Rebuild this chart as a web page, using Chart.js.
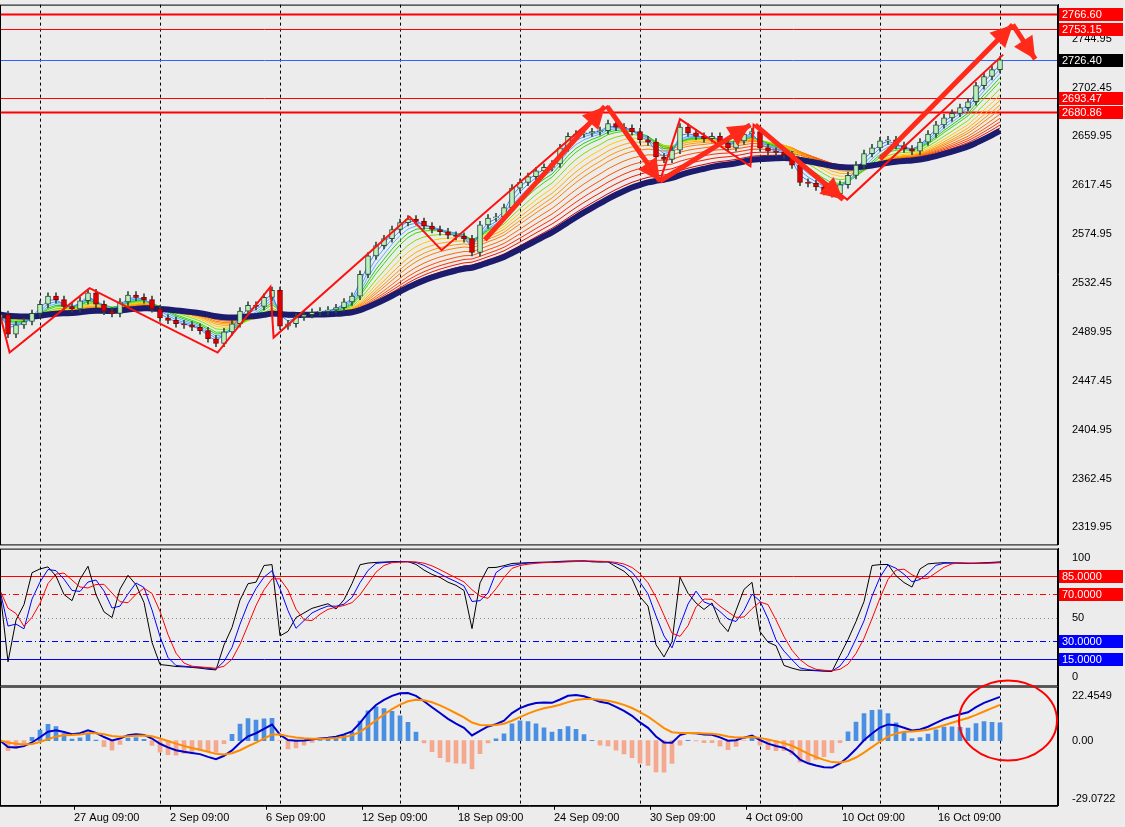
<!DOCTYPE html>
<html><head><meta charset="utf-8">
<script src="https://cdn.jsdelivr.net/npm/chart.js@4"></script>
<style>
html,body{margin:0;padding:0;background:#ececec;width:1125px;height:827px;overflow:hidden}
canvas{position:absolute;left:0}
</style></head><body>
<canvas id="c1" width="1125" height="565" style="top:-8px"></canvas>
<canvas id="c2" width="1125" height="162" style="top:536px"></canvas>
<canvas id="c3" width="1125" height="153" style="top:674px"></canvas>
<script>
// ---------- DATA ----------
const closes = [2505,2488,2496,2499,2506,2514,2521,2518,2512,2510,2517,2524,2514,2508,2506,2516,2522,2520,2518,2510,
2502,2500,2497,2496,2494,2491,2484,2480,2490,2497,2508,2513,2512,2520,2526,2495,2497,2503,2505,2507,
2508,2509,2511,2516,2521,2540,2556,2565,2571,2579,2585,2588,2586,2582,2579,2577,2574,2573,2571,2559,
2583,2589,2590,2598,2615,2620,2625,2630,2633,2636,2650,2660,2662,2663,2664,2665,2671,2668,2667,2664,
2657,2655,2642,2640,2648,2668,2663,2660,2658,2660,2654,2650,2656,2662,2664,2650,2647,2646,2644,2635,
2620,2619,2616,2612,2610,2618,2626,2635,2645,2650,2656,2657,2652,2649,2647,2655,2662,2670,2676,2680,
2685,2690,2704,2712,2718,2726.4];
const firstOpen = 2500;
const xTickPos = [9.25,21.25,33.25,45.25,57.25,69.25,81.25,93.25,105.25,117.25];
const xTickLabels = ['27 Aug 09:00','2 Sep 09:00','6 Sep 09:00','12 Sep 09:00','18 Sep 09:00','24 Sep 09:00','30 Sep 09:00','4 Oct 09:00','10 Oct 09:00','16 Oct 09:00'];
const weekSeparators = [5,20,35,50,65,80,95,110,125];
const priceTicks = [2744.95,2702.45,2659.95,2617.45,2574.95,2532.45,2489.95,2447.45,2404.95,2362.45,2319.95];
const levelValues = [2766.60,2753.15,2726.40,2693.47,2680.86];
const levelKinds = ['red2','red1','blue','red1','red2'];
const zigzagX = [0,1.2,11.2,27.2,33.8,34.2,51.2,55.2,75.9,82.5,85,93.8,94.2,105.9,125.4];
const zigzagY = [2505,2472,2528,2472,2529,2485,2590,2561,2686,2621,2675,2634,2670,2605,2731];
const arrowFrom = [[60.6,2570],[75.9,2686],[82.5,2621],[94.4,2670],[110,2640],[126.6,2757]];
const arrowTo   = [[75.6,2686],[82.5,2621],[93.8,2670],[105.4,2605],[126.6,2757],[129.4,2727]];
const oscTicks = [100,50,0];
const oscLevels = [85,70,50,30,15];
const macdTicks = [22.4549,0,-29.0722];

// ---------- derived ----------
const opens = closes.map((c,i)=> i===0 ? firstOpen : closes[i-1]);
const highs = closes.map((c,i)=> Math.max(c,opens[i])+3);
const lows  = closes.map((c,i)=> Math.min(c,opens[i])-3);
function ema(a,p){const k=2/(p+1);const o=[a[0]];for(let i=1;i<a.length;i++)o.push(a[i]*k+o[i-1]*(1-k));return o;}
function sma(a,p){return a.map((v,i)=>{const s=a.slice(Math.max(0,i-p+1),i+1);return s.reduce((x,y)=>x+y,0)/s.length;});}
const pts = a => a.map((v,i)=>({x:i,y:v}));

const ribbonPeriods=[2,3,4,5,6,8,10,12,14,16,19,22,25,28,31];
const ribbonColors=['#3b8cff','#4aa0ff','#60b0ff','#22cc22','#33dd00','#88dd00','#ffcc00','#ffaa00','#ff9900','#ff8000','#ff6a00','#ff5000','#ff3000','#ee1a00','#dd0000'];

const X = {type:'linear',min:0,max:132.25,display:false,offset:false};
const yFit = s=>{s.width=67;};
const fontT = {family:'Liberation Sans',size:11};

function vgrid(chart){
  const {ctx,chartArea:a,scales:{x}}=chart;
  ctx.save();ctx.strokeStyle='#000';ctx.lineWidth=1;ctx.setLineDash([3,3]);
  weekSeparators.forEach(v=>{const px=Math.round(x.getPixelForValue(v))+0.5;ctx.beginPath();ctx.moveTo(px,a.top);ctx.lineTo(px,a.bottom);ctx.stroke();});
  ctx.restore();
}
function frame(chart){
  const {ctx,chartArea:a}=chart;
  ctx.save();ctx.strokeStyle='#000';ctx.lineWidth=1;ctx.strokeRect(a.left+0.5,a.top+0.5,a.right-a.left-1,a.bottom-a.top);ctx.restore();
}
function box(ctx,y,text,bg){
  ctx.fillStyle=bg;ctx.fillRect(1059,Math.round(y)-6,64,13);
  ctx.fillStyle='#fff';ctx.font='11px Liberation Sans';ctx.textBaseline='middle';ctx.textAlign='left';ctx.fillText(text,1062,Math.round(y)+1);
}

// ---------- main chart ----------
const ds1=[];
ribbonPeriods.forEach((p,j)=>ds1.push({type:'line',data:pts(ema(closes,p)),borderColor:ribbonColors[j],borderWidth:1,pointRadius:0,tension:0,order:5}));
ds1.push({type:'line',data:pts(ema(closes,34)),borderColor:'#1c1c6e',borderWidth:6,pointRadius:0,tension:0.3,order:4});
ds1.push({type:'bar',data:closes.map((c,i)=>({x:i,y:[lows[i],highs[i]]})),backgroundColor:'#2d4b3c',barThickness:1,grouped:false,order:3});
ds1.push({type:'bar',data:closes.map((c,i)=>({x:i,y:[Math.min(c,opens[i]),Math.max(c,opens[i])+0.01]})),
  backgroundColor:closes.map((c,i)=>c>=opens[i]?'#b8f0b8':'#dd0000'),borderColor:closes.map((c,i)=>c>=opens[i]?'#2d4b3c':'#880000'),borderWidth:1,borderSkipped:false,barThickness:5,grouped:false,order:2});
ds1.push({type:'line',data:zigzagX.map((x,i)=>({x,y:zigzagY[i]})),borderColor:'#ff1010',borderWidth:2,pointRadius:0,tension:0,order:1});
arrowFrom.forEach((f,i)=>ds1.push({type:'line',data:[{x:f[0],y:f[1]},{x:arrowTo[i][0],y:arrowTo[i][1]}],borderColor:'#ff2a1a',borderWidth:5,pointRadius:0,order:0}));

new Chart(document.getElementById('c1'),{
  type:'bar',data:{datasets:ds1},
  options:{animation:false,responsive:false,devicePixelRatio:1,layout:{padding:{top:5,bottom:2,left:0,right:0}},
    plugins:{legend:{display:false},tooltip:{enabled:false}},
    scales:{x:X,y:{position:'right',min:2305.2,max:2774.5,afterFit:yFit,grid:{display:false},border:{color:'#000'},
      afterBuildTicks:s=>{s.ticks=priceTicks.map(v=>({value:v}));},
      ticks:{color:'#000',font:fontT,padding:6,callback:v=>v.toFixed(2)}}}},
  plugins:[{id:'p1',beforeDatasetsDraw:c=>{vgrid(c);
      const {ctx,chartArea:a,scales:{y}}=c;
      levelValues.forEach((v,i)=>{const py=Math.round(y.getPixelForValue(v));const k=levelKinds[i];
        ctx.save();ctx.strokeStyle=k==='blue'?'#3060ff':'#ff0000';ctx.lineWidth=k==='red2'?2:1;
        ctx.beginPath();ctx.moveTo(a.left,py+0.5);ctx.lineTo(a.right,py+0.5);ctx.stroke();ctx.restore();});
    },
    afterDatasetsDraw:c=>{
      const {ctx,scales:{x,y}}=c;
      ctx.save();ctx.fillStyle='#ff2a1a';
      arrowFrom.forEach((f,i)=>{const x0=x.getPixelForValue(f[0]),y0=y.getPixelForValue(f[1]);const x1=x.getPixelForValue(arrowTo[i][0]),y1=y.getPixelForValue(arrowTo[i][1]);
        const ang=Math.atan2(y1-y0,x1-x0);const L=22,W=11;
        ctx.beginPath();ctx.moveTo(x1,y1);ctx.lineTo(x1-L*Math.cos(ang)+W*Math.sin(ang),y1-L*Math.sin(ang)-W*Math.cos(ang));
        ctx.lineTo(x1-L*Math.cos(ang)-W*Math.sin(ang),y1-L*Math.sin(ang)+W*Math.cos(ang));ctx.closePath();ctx.fill();});
      ctx.restore();
    },
    afterDraw:c=>{frame(c);const {ctx,scales:{y}}=c;
      levelValues.forEach((v,i)=>box(ctx,y.getPixelForValue(v),v.toFixed(2),levelKinds[i]==='blue'?'#000':'#ff0000'));}
  }]
});

// ---------- oscillator ----------
const K=closes.map((c,i)=>{const h=Math.max(...highs.slice(Math.max(0,i-13),i+1)),l=Math.min(...lows.slice(Math.max(0,i-13),i+1));return 100*(c-l)/(h-l);});
const D1=sma(K,3), D2=sma(D1,3);
new Chart(document.getElementById('c2'),{
  type:'line',data:{datasets:[
    {data:pts(D2),borderColor:'#ff0000',borderWidth:1,pointRadius:0},
    {data:pts(D1),borderColor:'#0000ff',borderWidth:1,pointRadius:0},
    {data:pts(K),borderColor:'#000',borderWidth:1,pointRadius:0}]},
  options:{animation:false,responsive:false,devicePixelRatio:1,layout:{padding:{top:2,bottom:1}},
    plugins:{legend:{display:false},tooltip:{enabled:false}},
    scales:{x:X,y:{position:'right',min:-6.7,max:107.6,afterFit:yFit,grid:{display:false},border:{color:'#000'},
      afterBuildTicks:s=>{s.ticks=oscTicks.map(v=>({value:v}));},ticks:{color:'#000',font:fontT,padding:6}}}},
  plugins:[{id:'p2',beforeDatasetsDraw:c=>{vgrid(c);const {ctx,chartArea:a,scales:{y}}=c;
      const st={85:['#ff0000',[]],70:['#ff0000',[6,3,1,3]],50:['#888',[1,3]],30:['#0000ff',[6,3,1,3]],15:['#0000ff',[]]};
      oscLevels.forEach(v=>{const py=Math.round(y.getPixelForValue(v))+0.5;ctx.save();ctx.strokeStyle=st[v][0];ctx.setLineDash(st[v][1]);
        ctx.beginPath();ctx.moveTo(a.left,py);ctx.lineTo(a.right,py);ctx.stroke();ctx.restore();});},
    afterDraw:c=>{frame(c);const {ctx,scales:{y}}=c;
      [85,70].forEach(v=>box(ctx,y.getPixelForValue(v),v.toFixed(4),'#ff0000'));
      [30,15].forEach(v=>box(ctx,y.getPixelForValue(v),v.toFixed(4),'#0000ff'));}}]
});

// ---------- MACD ----------
const e5=ema(closes,5), e13=ema(closes,13);
const macd=e5.map((v,i)=>v-e13[i]);
const sig=ema(macd,6);
const hist=macd.map((v,i)=>2.2*(v-sig[i]));
new Chart(document.getElementById('c3'),{
  type:'bar',data:{datasets:[
    {type:'line',data:pts(sig),borderColor:'#ff8c00',borderWidth:2,pointRadius:0,order:0},
    {type:'line',data:pts(macd),borderColor:'#0000cc',borderWidth:2,pointRadius:0,order:1},
    {type:'bar',data:pts(hist),backgroundColor:hist.map(v=>v>=0?'#4a90e2':'#f4a98f'),barThickness:4,grouped:false,order:2}]},
  options:{animation:false,responsive:false,devicePixelRatio:1,layout:{padding:{top:1,bottom:0}},
    plugins:{legend:{display:false},tooltip:{enabled:false}},
    scales:{x:{type:'linear',min:0,max:132.25,offset:false,afterBuildTicks:s=>{s.ticks=xTickPos.map(v=>({value:v}));},
        grid:{drawOnChartArea:false,tickLength:4,color:'#000',offset:false},border:{color:'#000'},
        ticks:{align:'start',maxRotation:0,autoSkip:false,color:'#000',font:fontT,padding:2,callback:(v,i)=>xTickLabels[i]}},
      y:{position:'right',min:-32.57,max:26.96,afterFit:yFit,grid:{display:false},border:{color:'#000'},
      afterBuildTicks:s=>{s.ticks=macdTicks.map(v=>({value:v}));},ticks:{color:'#000',font:fontT,padding:6,callback:v=>v===0?'0.00':String(v)}}}},
  plugins:[{id:'p3',beforeDatasetsDraw:vgrid,afterDraw:c=>{frame(c);
    const {ctx,scales:{x,y}}=c;ctx.save();ctx.strokeStyle='#ff0000';ctx.lineWidth=2;ctx.beginPath();
    ctx.ellipse(x.getPixelForValue(126),y.getPixelForValue(10),49,40,0,0,Math.PI*2);ctx.stroke();ctx.restore();}}]
});
</script></body></html>
